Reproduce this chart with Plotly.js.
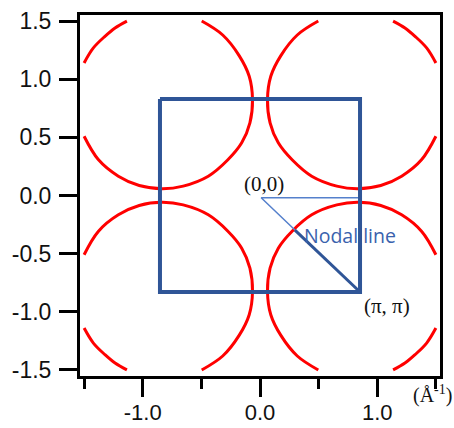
<!DOCTYPE html>
<html>
<head>
<meta charset="utf-8">
<script src="https://cdn.plot.ly/plotly-3.0.1.min.js"></script>
<style>
  html, body { margin: 0; padding: 0; background: #ffffff; }
  #chart { width: 454px; height: 428px; }
</style>
</head>
<body>
<div id="chart"></div>
<script>
// Fermi-surface pockets, each: main arc, gap, outer corner arc
const neX = [0.497, 0.318, 0.178, 0.092, 0.064, 0.086, 0.156, 0.276, 0.441, 0.655, 0.834, 1.030, 1.208, 1.379, 1.500, null, 1.135, 1.236, 1.322, 1.421, 1.500];
const neY = [1.500, 1.380, 1.203, 1.025, 0.825, 0.625, 0.453, 0.305, 0.166, 0.081, 0.059, 0.086, 0.166, 0.309, 0.509, null, 1.500, 1.441, 1.369, 1.269, 1.140];
const nwX = [-0.497, -0.318, -0.178, -0.092, -0.064, -0.086, -0.156, -0.276, -0.441, -0.655, -0.834, -1.030, -1.208, -1.379, -1.500, null, -1.135, -1.236, -1.322, -1.421, -1.500];
const nwY = [1.500, 1.380, 1.203, 1.025, 0.825, 0.625, 0.453, 0.305, 0.166, 0.081, 0.059, 0.086, 0.166, 0.309, 0.509, null, 1.500, 1.441, 1.369, 1.269, 1.140];
const seX = [0.497, 0.318, 0.178, 0.092, 0.064, 0.086, 0.156, 0.276, 0.441, 0.655, 0.834, 1.030, 1.208, 1.379, 1.500, null, 1.135, 1.236, 1.322, 1.421, 1.500];
const seY = [-1.500, -1.380, -1.203, -1.025, -0.825, -0.625, -0.453, -0.305, -0.166, -0.081, -0.059, -0.086, -0.166, -0.309, -0.509, null, -1.500, -1.441, -1.369, -1.269, -1.140];
const swX = [-0.497, -0.318, -0.178, -0.092, -0.064, -0.086, -0.156, -0.276, -0.441, -0.655, -0.834, -1.030, -1.208, -1.379, -1.500, null, -1.135, -1.236, -1.322, -1.421, -1.500];
const swY = [-1.500, -1.380, -1.203, -1.025, -0.825, -0.625, -0.453, -0.305, -0.166, -0.081, -0.059, -0.086, -0.166, -0.309, -0.509, null, -1.500, -1.441, -1.369, -1.269, -1.140];

// Brillouin zone square
const zoneX = [-0.853, 0.853, 0.853, -0.853, -0.853];
const zoneY = [0.830, 0.830, -0.830, -0.830, 0.830];

// Triangle (0,0) -> (pi,0) and nodal direction (0,0) -> (pi,pi)
const thinX = [0.853, 0.010, 0.298];
const thinY = [-0.020, -0.020, -0.297];
const nodalX = [0.298, 0.853];
const nodalY = [-0.297, -0.830];

// Ticks
const yTickVals = [-1.5, -1.0, -0.5, 0.0, 0.5, 1.0, 1.5];
const yTickText = ['-1.5', '-1.0', '-0.5', '0.0', '0.5', '1.0', '1.5'];
const xTickVals = [-1.0, 0.0, 1.0];
const xTickText = ['-1.0', '0.0', '1.0'];
const xMinorVals = [-1.5, -0.5, 0.5, 1.5];

const red = '#ff0000';
const blueDark = '#2f5597';
const blueLight = '#5580cc';

function fs(x, y) {
  return { x: x, y: y, type: 'scatter', mode: 'lines', hoverinfo: 'skip',
           line: { color: red, width: 3, shape: 'spline', smoothing: 1 }, connectgaps: false };
}

const data = [
  fs(neX, neY), fs(nwX, nwY), fs(seX, seY), fs(swX, swY),
  { x: thinX, y: thinY, type: 'scatter', mode: 'lines', hoverinfo: 'skip',
    line: { color: blueLight, width: 1.5 } },
  { x: nodalX, y: nodalY, type: 'scatter', mode: 'lines', hoverinfo: 'skip',
    line: { color: blueDark, width: 3 } },
  { x: zoneX, y: zoneY, type: 'scatter', mode: 'lines', hoverinfo: 'skip',
    line: { color: blueDark, width: 4 } }
];

const yTickFont = { family: '"Liberation Sans", Arial, sans-serif', size: 23, color: '#111111' };
const xTickFont = { family: '"Liberation Sans", Arial, sans-serif', size: 22, color: '#111111' };

const layout = {
  width: 454, height: 428,
  margin: { l: 80, r: 14, t: 15, b: 52, pad: 0 },
  paper_bgcolor: '#ffffff', plot_bgcolor: '#ffffff',
  showlegend: false,
  xaxis: {
    range: [-1.535, 1.535], showgrid: false, zeroline: false,
    showline: true, linecolor: '#000000', linewidth: 3, mirror: true,
    tickmode: 'array', tickvals: xTickVals, ticktext: xTickText,
    ticks: 'outside', ticklen: 18, tickwidth: 3, tickcolor: '#000000',
    tickfont: xTickFont, ticklabelstandoff: -3,
    minor: { tickmode: 'array', tickvals: xMinorVals, ticks: 'outside', ticklen: 10, tickwidth: 3, tickcolor: '#000000', showgrid: false }
  },
  yaxis: {
    range: [-1.552, 1.552], showgrid: false, zeroline: false,
    showline: true, linecolor: '#000000', linewidth: 3, mirror: true,
    tickmode: 'array', tickvals: yTickVals, ticktext: yTickText,
    ticks: 'outside', ticklen: 18, tickwidth: 3, tickcolor: '#000000',
    tickfont: yTickFont, ticklabelstandoff: 3
  },
  annotations: [
    { x: 0.038, y: 0.099, xref: 'x', yref: 'y', text: '(0,0)', showarrow: false,
      xanchor: 'center', yanchor: 'middle',
      font: { family: '"Liberation Serif", "Times New Roman", serif', size: 21, color: '#111111' } },
    { x: 1.08, y: -0.95, xref: 'x', yref: 'y', text: '(π, π)', showarrow: false,
      xanchor: 'center', yanchor: 'middle',
      font: { family: '"Liberation Serif", "Times New Roman", serif', size: 21, color: '#111111' } },
    { x: 0.36, y: -0.34, xref: 'x', yref: 'y', text: 'Nodal line', showarrow: false,
      xanchor: 'left', yanchor: 'middle',
      font: { family: '"Open Sans", sans-serif', size: 19.5, color: '#3a62ad' } },
    { x: 1.04, y: -0.05, xref: 'paper', yref: 'paper', text: '(Å<sup>-1</sup>)', showarrow: false,
      xanchor: 'right', yanchor: 'middle',
      font: { family: '"Liberation Serif", "Times New Roman", serif', size: 20, color: '#111111' } }
  ]
};

Plotly.newPlot('chart', data, layout, { staticPlot: true, displayModeBar: false });
</script>
</body>
</html>
